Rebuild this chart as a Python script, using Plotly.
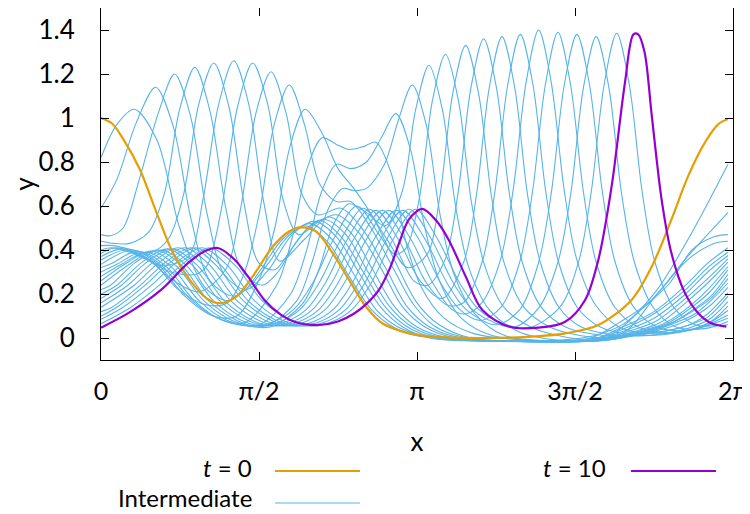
import numpy as np
import plotly.graph_objects as go

# ---------------------------------------------------------------
# Data.
# Each curve: list of (x / pi, y) knots.
# ---------------------------------------------------------------
t00 = [(0, 1.0), (0.035, 0.975), (0.07, 0.905), (0.123, 0.766), (0.176, 0.569), (0.228, 0.386),
       (0.281, 0.264), (0.333, 0.181), (0.375, 0.158), (0.428, 0.188), (0.48, 0.28), (0.544, 0.416),
       (0.596, 0.485), (0.633, 0.503), (0.68, 0.485), (0.733, 0.386), (0.785, 0.264), (0.838, 0.143),
       (0.89, 0.067), (0.954, 0.029), (1.0, 0.014), (1.05, 0.006), (1.2, 0.0), (1.35, 0.005),
       (1.469, 0.021), (1.574, 0.059), (1.679, 0.173), (1.743, 0.325), (1.805, 0.538), (1.858, 0.736),
       (1.911, 0.888), (1.953, 0.971), (1.984, 0.995)]

t100 = [(0, 0.047), (0.086, 0.113), (0.19, 0.219), (0.275, 0.34), (0.328, 0.394), (0.37, 0.409),
        (0.423, 0.356), (0.465, 0.28), (0.517, 0.173), (0.57, 0.105), (0.612, 0.074), (0.69, 0.059),
        (0.75, 0.075), (0.80, 0.11), (0.84, 0.155), (0.88, 0.22), (0.915, 0.32), (0.943, 0.43),
        (0.975, 0.54), (1.017, 0.587), (1.06, 0.535), (1.1, 0.447), (1.154, 0.28), (1.206, 0.128),
        (1.29, 0.052), (1.385, 0.047), (1.469, 0.074), (1.532, 0.173), (1.574, 0.356), (1.616, 0.69),
        (1.658, 1.16), (1.685, 1.38), (1.70, 1.38), (1.72, 1.30), (1.743, 1.01), (1.774, 0.63),
        (1.805, 0.386), (1.848, 0.204), (1.89, 0.113), (1.932, 0.067), (1.979, 0.052)]

t04 = [(0, 0.82), (0.05, 0.97), (0.105, 1.04), (0.177, 0.90), (0.249, 0.50), (0.329, 0.23), (0.40, 0.17),
       (0.457, 0.22), (0.51, 0.32), (0.575, 0.45), (0.645, 0.51), (0.715, 0.44), (0.785, 0.28), (0.855, 0.13),
       (0.925, 0.05), (1.0, 0.01), (1.2, -0.01), (1.45, -0.01), (1.56, 0.01), (1.66, 0.07), (1.76, 0.22),
       (1.87, 0.48), (1.984, 0.79)]
t08 = [(0, 0.59), (0.05, 0.72), (0.112, 0.98), (0.173, 1.14), (0.229, 0.96), (0.285, 0.54), (0.345, 0.26),
       (0.42, 0.19), (0.473, 0.24), (0.53, 0.34), (0.59, 0.46), (0.66, 0.52), (0.73, 0.45), (0.80, 0.29),
       (0.87, 0.13), (0.94, 0.05), (1.02, 0.01), (1.2, -0.012), (1.45, -0.012), (1.55, 0.0), (1.64, 0.07),
       (1.74, 0.17), (1.85, 0.36), (1.984, 0.57)]
t12 = [(0, 0.47), (0.03, 0.465), (0.07, 0.50), (0.121, 0.72), (0.183, 1.03), (0.233, 1.20), (0.283, 1.01),
       (0.335, 0.57), (0.39, 0.29), (0.46, 0.22), (0.53, 0.31), (0.605, 0.47), (0.675, 0.53), (0.745, 0.46),
       (0.815, 0.30), (0.885, 0.14), (0.955, 0.05), (1.04, 0.0), (1.25, -0.015), (1.5, -0.012), (1.62, 0.02),
       (1.71, 0.13), (1.80, 0.25), (1.87, 0.40), (1.94, 0.46), (1.984, 0.47)]
t16 = [(0, 0.44), (0.04, 0.43), (0.09, 0.43), (0.15, 0.48), (0.201, 0.66), (0.249, 1.04), (0.297, 1.23),
       (0.345, 1.03), (0.395, 0.59), (0.445, 0.31), (0.51, 0.24), (0.56, 0.30), (0.62, 0.44), (0.69, 0.535),
       (0.76, 0.46), (0.83, 0.30), (0.90, 0.14), (0.97, 0.05), (1.06, 0.0), (1.3, -0.015), (1.55, -0.01),
       (1.66, 0.03), (1.76, 0.20), (1.86, 0.36), (1.94, 0.43), (1.984, 0.44)]
t20 = [(0, 0.42), (0.04, 0.42), (0.10, 0.40), (0.16, 0.39), (0.213, 0.45), (0.261, 0.65), (0.309, 1.06),
       (0.357, 1.25), (0.405, 1.05), (0.453, 0.61), (0.50, 0.34), (0.55, 0.31), (0.60, 0.40), (0.655, 0.50),
       (0.705, 0.54), (0.775, 0.47), (0.845, 0.30), (0.915, 0.14), (0.985, 0.05), (1.08, 0.0), (1.3, -0.015),
       (1.55, -0.01), (1.65, 0.05), (1.75, 0.12), (1.85, 0.24), (1.92, 0.34), (1.984, 0.41)]
t24 = [(0, 0.40), (0.035, 0.41), (0.11, 0.38), (0.19, 0.33), (0.276, 0.37), (0.324, 0.64), (0.372, 1.06),
       (0.42, 1.26), (0.468, 1.06), (0.516, 0.61), (0.565, 0.35), (0.645, 0.45), (0.72, 0.55), (0.79, 0.48),
       (0.86, 0.31), (0.93, 0.14), (1.0, 0.05), (1.1, 0.0), (1.3, -0.015), (1.55, -0.01), (1.66, 0.045),
       (1.75, 0.11), (1.85, 0.22), (1.92, 0.32), (1.984, 0.39)]
t28 = [(0, 0.385), (0.05, 0.41), (0.13, 0.37), (0.22, 0.30), (0.30, 0.29), (0.336, 0.33), (0.384, 0.61),
       (0.432, 1.05), (0.48, 1.25), (0.528, 1.06), (0.576, 0.63), (0.625, 0.47), (0.69, 0.53), (0.745, 0.56),
       (0.815, 0.48), (0.885, 0.32), (0.955, 0.14), (1.025, 0.05), (1.12, 0.0), (1.35, -0.015), (1.56, -0.01),
       (1.67, 0.04), (1.75, 0.09), (1.85, 0.20), (1.92, 0.30), (1.984, 0.375)]
t32 = [(0, 0.37), (0.065, 0.405), (0.145, 0.36), (0.23, 0.26), (0.31, 0.21), (0.394, 0.31), (0.442, 0.59),
       (0.49, 1.02), (0.538, 1.21), (0.586, 1.02), (0.634, 0.66), (0.685, 0.56), (0.76, 0.59), (0.83, 0.49),
       (0.90, 0.32), (0.97, 0.14), (1.04, 0.05), (1.14, 0.0), (1.35, -0.015), (1.56, -0.01), (1.68, 0.035),
       (1.76, 0.08), (1.85, 0.18), (1.92, 0.27), (1.984, 0.36)]
t36 = [(0, 0.355), (0.08, 0.40), (0.16, 0.35), (0.245, 0.22), (0.335, 0.15), (0.40, 0.16), (0.452, 0.29),
       (0.50, 0.56), (0.548, 0.97), (0.596, 1.15), (0.644, 0.97), (0.692, 0.70), (0.745, 0.62), (0.79, 0.62),
       (0.85, 0.51), (0.92, 0.33), (0.99, 0.15), (1.06, 0.05), (1.16, 0.0), (1.38, -0.015), (1.57, -0.01),
       (1.69, 0.03), (1.77, 0.07), (1.85, 0.16), (1.92, 0.25), (1.984, 0.345)]
t40 = [(0, 0.335), (0.10, 0.40), (0.18, 0.335), (0.265, 0.19), (0.355, 0.10), (0.43, 0.10), (0.502, 0.27),
       (0.55, 0.50), (0.598, 0.87), (0.646, 1.04), (0.70, 0.93), (0.75, 0.77), (0.80, 0.68), (0.86, 0.55),
       (0.93, 0.35), (1.0, 0.16), (1.07, 0.06), (1.17, 0.0), (1.4, -0.015), (1.58, -0.01), (1.70, 0.03),
       (1.78, 0.065), (1.85, 0.13), (1.92, 0.22), (1.984, 0.325)]
t44 = [(0, 0.32), (0.035, 0.34), (0.115, 0.395), (0.195, 0.325), (0.28, 0.18), (0.37, 0.09), (0.455, 0.07),
       (0.556, 0.24), (0.604, 0.45), (0.652, 0.77), (0.70, 0.91), (0.745, 0.88), (0.785, 0.857), (0.83, 0.87),
       (0.87, 0.89), (0.918, 0.75), (0.966, 0.43), (1.014, 0.23), (1.086, 0.09), (1.18, 0.02), (1.42, -0.015),
       (1.58, -0.01), (1.71, 0.03), (1.79, 0.065), (1.86, 0.13), (1.92, 0.20), (1.984, 0.31)]
t48 = [(0, 0.30), (0.05, 0.335), (0.13, 0.39), (0.21, 0.32), (0.295, 0.17), (0.385, 0.08), (0.50, 0.06),
       (0.60, 0.20), (0.649, 0.39), (0.697, 0.66), (0.745, 0.79), (0.79, 0.77), (0.84, 0.80), (0.887, 0.91),
       (0.933, 1.02), (0.979, 0.86), (1.025, 0.50), (1.071, 0.26), (1.14, 0.09), (1.24, 0.01), (1.45, -0.015),
       (1.6, -0.01), (1.72, 0.03), (1.80, 0.065), (1.87, 0.125), (1.93, 0.19), (1.984, 0.29)]
t52 = [(0, 0.28), (0.065, 0.335), (0.145, 0.39), (0.225, 0.32), (0.31, 0.17), (0.40, 0.08), (0.52, 0.055),
       (0.62, 0.17), (0.669, 0.35), (0.717, 0.58), (0.765, 0.68), (0.80, 0.67), (0.84, 0.68), (0.897, 0.79),
       (0.941, 0.99), (0.985, 1.15), (1.029, 0.97), (1.073, 0.56), (1.117, 0.29), (1.183, 0.11), (1.28, 0.01),
       (1.48, -0.015), (1.6, -0.01), (1.73, 0.03), (1.81, 0.07), (1.87, 0.12), (1.93, 0.18), (1.984, 0.27)]
t56 = [(0, 0.26), (0.08, 0.34), (0.16, 0.395), (0.24, 0.325), (0.325, 0.17), (0.415, 0.08), (0.535, 0.05),
       (0.64, 0.16), (0.689, 0.31), (0.737, 0.52), (0.785, 0.61), (0.84, 0.57), (0.90, 0.51), (0.954, 0.67),
       (0.996, 1.04), (1.038, 1.24), (1.08, 1.04), (1.122, 0.60), (1.164, 0.32), (1.228, 0.13), (1.32, 0.03),
       (1.45, -0.01), (1.62, -0.005), (1.74, 0.03), (1.82, 0.07), (1.88, 0.11), (1.93, 0.17), (1.984, 0.25)]
t60 = [(0, 0.24), (0.095, 0.34), (0.175, 0.40), (0.255, 0.33), (0.34, 0.17), (0.43, 0.08), (0.49, 0.055),
       (0.54, 0.07), (0.61, 0.13), (0.67, 0.25), (0.74, 0.46), (0.81, 0.60), (0.88, 0.47), (0.93, 0.38),
       (0.966, 0.41), (1.008, 0.64), (1.049, 1.08), (1.09, 1.29), (1.131, 1.08), (1.172, 0.62), (1.214, 0.33),
       (1.275, 0.14), (1.36, 0.05), (1.45, 0.01), (1.56, -0.01), (1.66, 0.01), (1.75, 0.03), (1.83, 0.065),
       (1.88, 0.10), (1.93, 0.15), (1.984, 0.23)]
t64 = [(0, 0.22), (0.03, 0.24), (0.11, 0.345), (0.19, 0.40), (0.27, 0.33), (0.355, 0.17), (0.445, 0.08),
       (0.51, 0.055), (0.56, 0.07), (0.63, 0.13), (0.69, 0.25), (0.76, 0.45), (0.83, 0.59), (0.90, 0.46),
       (0.97, 0.32), (1.032, 0.38), (1.072, 0.64), (1.113, 1.11), (1.154, 1.33), (1.195, 1.11), (1.236, 0.64),
       (1.276, 0.34), (1.338, 0.14), (1.42, 0.05), (1.52, 0.01), (1.62, 0.0), (1.72, 0.02), (1.80, 0.035),
       (1.87, 0.065), (1.92, 0.11), (1.984, 0.205)]
t68 = [(0, 0.20), (0.05, 0.24), (0.13, 0.345), (0.21, 0.405), (0.29, 0.33), (0.375, 0.17), (0.465, 0.08),
       (0.53, 0.055), (0.58, 0.07), (0.65, 0.13), (0.71, 0.25), (0.78, 0.45), (0.85, 0.585), (0.92, 0.45),
       (0.99, 0.26), (1.035, 0.24), (1.09, 0.36), (1.13, 0.66), (1.171, 1.14), (1.211, 1.36), (1.251, 1.14),
       (1.292, 0.66), (1.332, 0.35), (1.393, 0.14), (1.47, 0.05), (1.57, 0.015), (1.67, 0.01), (1.76, 0.025),
       (1.84, 0.05), (1.92, 0.095), (1.984, 0.19)]
t72 = [(0, 0.18), (0.065, 0.24), (0.145, 0.345), (0.225, 0.405), (0.305, 0.33), (0.39, 0.17), (0.48, 0.08),
       (0.545, 0.055), (0.60, 0.07), (0.67, 0.13), (0.73, 0.25), (0.80, 0.45), (0.87, 0.58), (0.94, 0.45),
       (1.01, 0.26), (1.08, 0.18), (1.149, 0.35), (1.189, 0.66), (1.229, 1.14), (1.269, 1.37), (1.309, 1.14),
       (1.349, 0.66), (1.389, 0.35), (1.449, 0.14), (1.52, 0.05), (1.62, 0.015), (1.72, 0.01), (1.80, 0.025),
       (1.87, 0.05), (1.93, 0.09), (1.984, 0.165)]
t76 = [(0, 0.16), (0.085, 0.24), (0.165, 0.345), (0.245, 0.41), (0.325, 0.33), (0.41, 0.17), (0.50, 0.08),
       (0.565, 0.055), (0.62, 0.07), (0.69, 0.13), (0.75, 0.25), (0.82, 0.45), (0.89, 0.58), (0.96, 0.45),
       (1.03, 0.25), (1.095, 0.15), (1.147, 0.16), (1.207, 0.35), (1.247, 0.67), (1.287, 1.15), (1.327, 1.38),
       (1.367, 1.15), (1.407, 0.67), (1.447, 0.35), (1.507, 0.14), (1.58, 0.05), (1.68, 0.015), (1.78, 0.015),
       (1.86, 0.035), (1.93, 0.075), (1.984, 0.145)]
t80 = [(0, 0.14), (0.105, 0.24), (0.185, 0.345), (0.265, 0.41), (0.345, 0.33), (0.43, 0.17), (0.52, 0.08),
       (0.585, 0.055), (0.64, 0.07), (0.71, 0.13), (0.77, 0.25), (0.84, 0.45), (0.91, 0.58), (0.98, 0.45),
       (1.05, 0.25), (1.11, 0.13), (1.155, 0.11), (1.205, 0.16), (1.265, 0.36), (1.305, 0.68), (1.345, 1.16),
       (1.385, 1.40), (1.425, 1.16), (1.465, 0.68), (1.505, 0.36), (1.565, 0.15), (1.64, 0.05), (1.74, 0.02),
       (1.84, 0.03), (1.92, 0.065), (1.984, 0.125)]
t84 = [(0, 0.12), (0.035, 0.14), (0.125, 0.24), (0.205, 0.345), (0.285, 0.41), (0.365, 0.33), (0.45, 0.17),
       (0.54, 0.08), (0.605, 0.055), (0.665, 0.07), (0.735, 0.13), (0.795, 0.25), (0.865, 0.45), (0.935, 0.58),
       (1.005, 0.45), (1.075, 0.25), (1.135, 0.13), (1.20, 0.08), (1.266, 0.14), (1.326, 0.35), (1.366, 0.67),
       (1.406, 1.15), (1.446, 1.39), (1.486, 1.15), (1.526, 0.67), (1.566, 0.35), (1.626, 0.14), (1.70, 0.05),
       (1.80, 0.025), (1.90, 0.05), (1.984, 0.105)]
t88 = [(0, 0.10), (0.05, 0.14), (0.14, 0.24), (0.22, 0.345), (0.30, 0.41), (0.38, 0.33), (0.465, 0.17),
       (0.555, 0.08), (0.62, 0.055), (0.685, 0.07), (0.755, 0.13), (0.815, 0.25), (0.885, 0.45), (0.955, 0.58),
       (1.025, 0.45), (1.095, 0.25), (1.155, 0.13), (1.25, 0.06), (1.326, 0.13), (1.386, 0.35), (1.426, 0.67),
       (1.466, 1.15), (1.506, 1.38), (1.546, 1.15), (1.586, 0.67), (1.626, 0.35), (1.686, 0.14), (1.76, 0.05),
       (1.86, 0.035), (1.984, 0.09)]
t92 = [(0, 0.085), (0.07, 0.14), (0.16, 0.24), (0.24, 0.345), (0.32, 0.41), (0.40, 0.33), (0.485, 0.17),
       (0.575, 0.08), (0.64, 0.055), (0.705, 0.07), (0.775, 0.13), (0.835, 0.25), (0.905, 0.45), (0.975, 0.585),
       (1.045, 0.45), (1.115, 0.25), (1.175, 0.13), (1.245, 0.07), (1.31, 0.05), (1.387, 0.14), (1.447, 0.35),
       (1.487, 0.66), (1.527, 1.14), (1.567, 1.37), (1.607, 1.14), (1.647, 0.66), (1.687, 0.35), (1.747, 0.14),
       (1.82, 0.05), (1.92, 0.045), (1.984, 0.075)]
t96 = [(0, 0.065), (0.095, 0.14), (0.185, 0.24), (0.265, 0.345), (0.345, 0.41), (0.425, 0.33), (0.51, 0.17),
       (0.60, 0.08), (0.665, 0.055), (0.725, 0.07), (0.795, 0.13), (0.855, 0.25), (0.925, 0.45), (0.995, 0.585),
       (1.065, 0.45), (1.135, 0.25), (1.195, 0.13), (1.265, 0.07), (1.35, 0.045), (1.452, 0.14), (1.512, 0.35),
       (1.552, 0.67), (1.592, 1.15), (1.632, 1.385), (1.672, 1.15), (1.712, 0.67), (1.752, 0.35), (1.812, 0.14),
       (1.88, 0.06), (1.94, 0.055), (1.984, 0.06)]

intermediate = [t04, t08, t12, t16, t20, t24, t28, t32, t36, t40, t44, t48,
                t52, t56, t60, t64, t68, t72, t76, t80, t84, t88, t92, t96]

x_tick_vals_pi = [0, 0.5, 1, 1.5, 2]
x_tick_text = ["0", "π/2", "π", "3π/2", "2π"]
y_tick_vals = [0, 0.2, 0.4, 0.6, 0.8, 1.0, 1.2, 1.4]
y_tick_text = ["0", "0.2", "0.4", "0.6", "0.8", "1", "1.2", "1.4"]

C_INTER = "#56B4E9"
C_T0 = "#E69F00"
C_T10 = "#9400D3"
FONT = "Lato, 'Noto Sans', sans-serif"
FS = 26

PI = np.pi


def xy(curve):
    return [p[0] * PI for p in curve], [p[1] for p in curve]


fig = go.Figure()
for c in intermediate:
    xs, ys = xy(c)
    fig.add_trace(go.Scatter(x=xs, y=ys, mode="lines", showlegend=False, hoverinfo="skip",
                             line=dict(color=C_INTER, width=1.1, shape="spline", smoothing=0.9)))
xs, ys = xy(t00)
fig.add_trace(go.Scatter(x=xs, y=ys, mode="lines", showlegend=False, hoverinfo="skip",
                         line=dict(color=C_T0, width=2.2, shape="spline", smoothing=0.9)))
xs, ys = xy(t100)
fig.add_trace(go.Scatter(x=xs, y=ys, mode="lines", showlegend=False, hoverinfo="skip",
                         line=dict(color=C_T10, width=2.2, shape="spline", smoothing=0.9)))

axis_common = dict(showline=True, linecolor="black", linewidth=1, mirror="ticks",
                   ticks="inside", ticklen=8, tickwidth=1, tickcolor="black", automargin=False,
                   showgrid=False, zeroline=False, ticklabeloverflow="allow")

fig.update_xaxes(range=[0, 2 * PI], tickvals=[v * PI for v in x_tick_vals_pi], ticktext=x_tick_text,
                 ticklabelstandoff=9, tickfont=dict(family=FONT, size=25, color="black"),
                 title=dict(text="x", font=dict(family=FONT, size=FS, color="black"), standoff=28),
                 **axis_common)
fig.update_yaxes(range=[-0.1, 1.5], tickvals=y_tick_vals, ticktext=y_tick_text,
                 ticklabelstandoff=20, tickfont=dict(family=FONT, size=FS, color="black"),
                 title=dict(text="y", font=dict(family=FONT, size=FS, color="black"), standoff=5),
                 **axis_common)

# legend (gnuplot style: text on the left, line sample on the right)
leg_font = dict(family=FONT, size=24, color="black")
row1_text, row1_line = -0.304, -0.3153
row2_text, row2_line = -0.392, -0.4063
fig.add_annotation(x=0.242, y=row1_text, xref="paper", yref="paper", text="<i>t</i> = 0",
                   showarrow=False, xanchor="right", yanchor="middle", font=leg_font)
fig.add_annotation(x=0.802, y=row1_text, xref="paper", yref="paper", text="<i>t</i> = 10",
                   showarrow=False, xanchor="right", yanchor="middle", font=leg_font)
fig.add_annotation(x=0.242, y=row2_text, xref="paper", yref="paper", text="Intermediate",
                   showarrow=False, xanchor="right", yanchor="middle", font=leg_font)
fig.add_shape(type="line", xref="paper", yref="paper", x0=0.2753, x1=0.4098, y0=row1_line, y1=row1_line,
              line=dict(color=C_T0, width=2.2))
fig.add_shape(type="line", xref="paper", yref="paper", x0=0.8386, x1=0.9731, y0=row1_line, y1=row1_line,
              line=dict(color=C_T10, width=2.2))
fig.add_shape(type="line", xref="paper", yref="paper", x0=0.2753, x1=0.4098, y0=row2_line, y1=row2_line,
              line=dict(color=C_INTER, width=1.1))

# page body has an 8px margin: size the figure so the plot lands where the reference's does
fig.update_layout(width=742, height=506, margin=dict(l=93, r=17, t=0, b=154, autoexpand=False),
                  paper_bgcolor="white", plot_bgcolor="white", showlegend=False,
                  font=dict(family=FONT, size=FS, color="black"))

fig.write_html("out.html")
